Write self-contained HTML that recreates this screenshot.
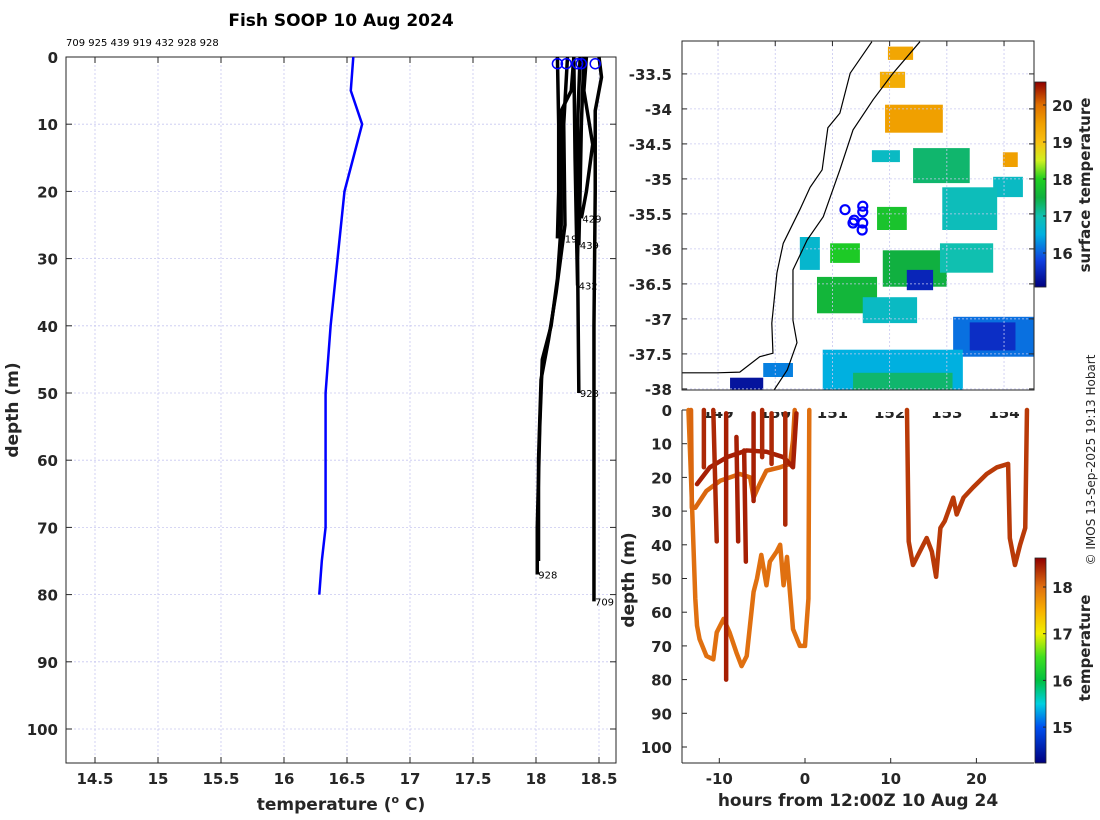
<!DOCTYPE html>
<html><head><meta charset="utf-8"><style>
html,body{margin:0;padding:0;background:#fff;}
svg{display:block;font-family:"DejaVu Sans","Liberation Sans",sans-serif;}
.tk{font-size:15px;font-weight:bold;fill:#262626;}
.lb{font-size:17px;font-weight:bold;fill:#262626;}
</style></head><body>
<svg id="fig" width="1100" height="820" viewBox="0 0 1100 820">
<text x="341" y="26" text-anchor="middle" font-size="17" font-weight="bold" fill="#000">Fish SOOP 10 Aug 2024</text>
<text x="66" y="46" font-size="10" fill="#000">709 925 439 919 432 928 928</text>
<g id="left"></g>
<g id="map"></g>
<g id="bot"></g>
<text transform="translate(1095,460) rotate(-90)" text-anchor="middle" font-size="12" fill="#262626">© IMOS 13-Sep-2025 19:13 Hobart</text>
</svg>
<script>
// ---------- data: left profile plot ----------
const xTicksL = [14.5,15,15.5,16,16.5,17,17.5,18,18.5];
const yTicksL = [0,10,20,30,40,50,60,70,80,90,100];
const climTemp = [16.55,16.53,16.62,16.48,16.37,16.33,16.33,16.30,16.28];
const climDepth = [0,5,10,20,40,50,70,75,80];
const profIds = ["709","928","432","439","429","919","928",""];
const profTemps = [
 [18.50,18.52,18.47,18.47,18.46,18.46],
 [18.35,18.33,18.34,18.33,18.34],
 [18.30,18.31,18.32,18.33],
 [18.38,18.36,18.35,18.34],
 [18.40,18.38,18.45,18.40,18.36],
 [18.17,18.18,18.18,18.17],
 [18.30,18.28,18.20,18.20,18.17,18.12,18.05,18.03,18.01,18.01],
 [18.25,18.22,18.23,18.16,18.10,18.04,18.02,18.02]
];
const profDepths = [
 [0,3,8,20,40,81],
 [0,10,20,30,50],
 [0,15,25,34],
 [0,10,20,28],
 [0,5,13,20,24],
 [0,10,20,27],
 [0,5,8,25,33,40,45,55,70,77],
 [0,10,25,35,42,48,60,75]
];
const startTemps = [18.17,18.24,18.33,18.36,18.47];
// ---------- data: map ----------
const latTicks = [-33.5,-34,-34.5,-35,-35.5,-36,-36.5,-37,-37.5,-38];
const lonTicks = [149,150,151,152,153,154];
const coastLon = [151.69,151.31,151.13,150.92,150.82,150.61,150.43,150.14,150.03,149.94,149.96,149.73,149.38,148.98,148.37];
const coastLat = [-33.04,-33.49,-34.06,-34.27,-34.87,-35.12,-35.44,-35.92,-36.34,-37.06,-37.49,-37.54,-37.76,-37.77,-37.77];
const isoLon = [152.53,152.06,151.71,151.36,151.13,150.84,150.56,150.31,150.31,150.38,150.21,149.96];
const isoLat = [-33.04,-33.49,-33.87,-34.30,-34.87,-35.54,-35.87,-36.30,-37.02,-37.34,-37.73,-38.04];
const stnLon = [151.22,151.53,151.53,151.38,151.36,151.53,151.52];
const stnLat = [-35.44,-35.39,-35.47,-35.59,-35.63,-35.63,-35.73];
const patchLon0 = [151.97,151.83,151.92,151.69,152.41,153.81,152.92,153.98,151.78,150.96,150.43,151.88,152.30,152.88,150.73,151.53,153.11,153.4,150.83,151.36,149.21,149.79];
const patchLon1 = [152.41,152.27,152.93,152.18,153.40,154.33,153.88,154.24,152.30,151.48,150.78,153.00,152.76,153.81,151.78,152.48,154.52,154.2,153.28,153.10,149.79,150.31];
const patchLat0 = [-33.11,-33.47,-33.94,-34.59,-34.56,-34.97,-35.12,-34.62,-35.40,-35.92,-35.83,-36.02,-36.30,-35.92,-36.40,-36.69,-36.97,-37.05,-37.44,-37.77,-37.84,-37.63];
const patchLat1 = [-33.30,-33.70,-34.34,-34.76,-35.06,-35.26,-35.73,-34.83,-35.73,-36.20,-36.30,-36.54,-36.59,-36.34,-36.92,-37.06,-37.54,-37.45,-38.04,-38.04,-38.04,-37.83];
const patchTemp = [19.4,19.3,19.5,16.8,17.3,16.8,16.9,19.5,17.8,17.9,16.7,17.5,15.5,17.0,17.6,16.8,16.1,15.6,16.5,17.3,15.3,16.2];
const sstTicks = [16,17,18,19,20];
// ---------- data: depth-time plot ----------
const hTicks = [-10,0,10,20];
const dTicks = [0,10,20,30,40,50,60,70,80,90,100];
const tTicks = [15,16,17,18];
const trHours = [
 [-13.6,-13.2,-12.8,-12.6,-12.3,-11.5,-10.7,-10.3,-9.5,-8.8,-8.0,-7.4,-6.8,-6.0,-5.6,-5.1,-4.5,-4.1,-3.3,-2.9,-2.5,-2.1,-1.4,-0.6,0,0.4,0.5],
 [-13.3,-13.2,-12.8,-11.5,-9.9,-7.6,-6.4,-6.0,-5.3,-4.5,-2.9,-1.75,-1.4,-1.2],
 [-12.6,-11.1,-9.1,-6.8,-4.5,-2.5,-1.4,-1.0],
 [-11.8,-11.8],[-10.7,-10.3],[-9.2,-9.2],[-8.0,-7.8],[-7.1,-6.9],[-6.0,-6.0],[-5.0,-5.0],[-3.9,-3.9],[-2.3,-2.3],
 [11.9,12.1,12.6,13.2,14.2,14.8,15.3,15.8,16.3,17.3,17.7,18.5,19.6,20.4,21.2,22.4,23.7,23.9,24.5,25.1,25.7,25.9]
];
const trDepths = [
 [0,27,56,64,68,73,74,66,62,66,72,76,73,54,50,43,52,45,42,40,52,43.6,65,70,70,56,0],
 [0,29,29,24,21,19,20,26,22,18,17,16,9,0],
 [22,17,14,12,12.4,14,17,1],
 [0,17],[0,39],[1,80],[8,39],[12,45],[1,27],[0,14],[1,16],[1,34],
 [0,39,46,43,38,42,49.5,35,33,26,31,26,23,21,19,17,16,38,46,40,35,0]
];
const trTemp = [18.0,18.05,18.45,18.4,18.4,18.45,18.45,18.45,18.45,18.4,18.4,18.4,18.3];
</script>
<script>
const NS="http://www.w3.org/2000/svg";
function mk(p,tag,at){const e=document.createElementNS(NS,tag);for(const k in at)e.setAttribute(k,at[k]);p.appendChild(e);return e;}
function lerpCol(stops,t){
  const v=stops;
  if(t<=v[0][0])return v[0][1];if(t>=v[v.length-1][0])return v[v.length-1][1];
  for(let i=1;i<v.length;i++){if(t<=v[i][0]){const a=v[i-1],b=v[i],f=(t-a[0])/(b[0]-a[0]);
    const c1=a[1],c2=b[1];const r=c1.map((c,j)=>Math.round(c+(c2[j]-c)*f));return r;}}
}
function rgb(a){return "rgb("+a.join(",")+")";}
const sstStops=[[15.08,[0,0,127]],[15.8,[16,64,224]],[16.5,[0,176,224]],[17,[16,192,176]],[17.5,[16,176,64]],[18,[32,208,32]],[18.5,[208,240,32]],[19,[248,192,16]],[19.5,[240,160,0]],[20,[224,112,0]],[20.62,[144,0,0]]];
const tStops=[[14.23,[0,0,127]],[15,[0,80,240]],[15.5,[0,208,224]],[16,[0,192,64]],[16.5,[64,224,32]],[17,[240,240,0]],[17.5,[248,176,0]],[18,[224,112,16]],[18.62,[144,0,0]]];

// ===== Left plot =====
(function(){
const g=document.getElementById('left');
const X0=66,X1=616,Y0=57,Y1=763;
const xs=t=>95+(t-14.5)*126, ys=d=>57+d*6.72;
xTicksL.forEach(t=>{const x=xs(t);
  const gl=mk(g,'line',{x1:x,x2:x,y1:Y0,y2:Y1,stroke:'#c8c8f0','stroke-width':0.8,'stroke-dasharray':'2,2'});
  
  mk(g,'line',{x1:x,x2:x,y1:Y0,y2:Y0+6,stroke:'#262626'});mk(g,'line',{x1:x,x2:x,y1:Y1,y2:Y1-6,stroke:'#262626'});
  const tx=mk(g,'text',{x:x,y:784,'text-anchor':'middle',class:'tk'});tx.textContent=String(t);
  });
yTicksL.forEach(d=>{const y=ys(d);
  const gl=mk(g,'line',{x1:X0,x2:X1,y1:y,y2:y,stroke:'#c8c8f0','stroke-width':0.8,'stroke-dasharray':'2,2'});
  
  mk(g,'line',{x1:X0,x2:X0+6,y1:y,y2:y,stroke:'#262626'});mk(g,'line',{x1:X1,x2:X1-6,y1:y,y2:y,stroke:'#262626'});
  const tx=mk(g,'text',{x:58,y:y+6,'text-anchor':'end',class:'tk'});tx.textContent=String(d);
  });
const bx=mk(g,'rect',{x:X0,y:Y0,width:X1-X0,height:Y1-Y0,fill:'none',stroke:'#262626','stroke-width':1});

const cl=mk(g,'polyline',{points:climTemp.map((t,i)=>xs(t)+','+ys(climDepth[i])).join(' '),fill:'none',stroke:'#0000ff','stroke-width':2.5});

profTemps.forEach((arr,i)=>{
  const pl=mk(g,'polyline',{points:arr.map((t,j)=>xs(t)+','+ys(profDepths[i][j])).join(' '),fill:'none',stroke:'#000','stroke-width':3.5,'stroke-linejoin':'round'});
  
  if(profIds[i]){const n=arr.length-1;const tx=mk(g,'text',{x:xs(arr[n])+1,y:ys(profDepths[i][n])+4,'font-size':10,fill:'#000'});tx.textContent=profIds[i];
  }
});
startTemps.forEach(t=>{const c=mk(g,'circle',{cx:xs(t),cy:ys(1),r:5,fill:'none',stroke:'#0000ff','stroke-width':1.5});
  });
const xl=mk(g,'text',{x:341,y:810,'text-anchor':'middle',class:'lb'});xl.innerHTML='temperature (<tspan font-size="11" dy="-7">o</tspan><tspan dy="7"> C)</tspan>';

const yl=mk(g,'text',{transform:'translate(18,410) rotate(-90)','text-anchor':'middle',class:'lb'});yl.textContent='depth (m)';

})();

// ===== Map =====
(function(){
const g=document.getElementById('map');
const X0=682,X1=1034,Y0=41,Y1=390;
const xs=l=>682+(l-148.37)*57.2, ys=la=>41+(-33.03-la)*70;
lonTicks.forEach(l=>{const x=xs(l);
  const tx=mk(g,'text',{x:x,y:418,'text-anchor':'middle',class:'tk'});tx.textContent=String(l);
  });
const cp=mk(g,'clipPath',{id:'mapclip'});mk(cp,'rect',{x:X0,y:Y0,width:X1-X0,height:Y1-Y0});
const inner=mk(g,'g',{'clip-path':'url(#mapclip)'});
patchTemp.forEach((t,i)=>{const x=xs(patchLon0[i]),y=ys(patchLat0[i]);
  const r=mk(inner,'rect',{x:x,y:y,width:xs(patchLon1[i])-x,height:ys(patchLat1[i])-y,fill:rgb(lerpCol(sstStops,t))});
  });
lonTicks.forEach(l=>{const x=xs(l);mk(inner,'line',{x1:x,x2:x,y1:Y0,y2:Y1,stroke:'#c8c8f0','stroke-width':0.8,'stroke-dasharray':'2,2'});
  mk(g,'line',{x1:x,x2:x,y1:Y0,y2:Y0+5,stroke:'#262626'});});
latTicks.forEach(la=>{const y=ys(la);mk(inner,'line',{x1:X0,x2:X1,y1:y,y2:y,stroke:'#c8c8f0','stroke-width':0.8,'stroke-dasharray':'2,2'});
  mk(g,'line',{x1:X0,x2:X0+5,y1:y,y2:y,stroke:'#262626'});mk(g,'line',{x1:X1,x2:X1-5,y1:y,y2:y,stroke:'#262626'});
  const tx=mk(g,'text',{x:672,y:y+6,'text-anchor':'end',class:'tk'});tx.textContent=String(la);
  });
const co=mk(inner,'polyline',{points:coastLon.map((l,i)=>xs(l)+','+ys(coastLat[i])).join(' '),fill:'none',stroke:'#000','stroke-width':1.2});

const iso=mk(inner,'polyline',{points:isoLon.map((l,i)=>xs(l)+','+ys(isoLat[i])).join(' '),fill:'none',stroke:'#000','stroke-width':1.2});

stnLon.forEach((l,i)=>{const c=mk(inner,'circle',{cx:xs(l),cy:ys(stnLat[i]),r:4.5,fill:'none',stroke:'#0000ff','stroke-width':2.2});
  });
const bx=mk(g,'rect',{x:X0,y:Y0,width:X1-X0,height:Y1-Y0,fill:'none',stroke:'#262626'});

const CY0=82,CY1=287,cys=t=>105+(20-t)*37;
for(let y=CY0;y<CY1;y++){const t=20-(y+0.5-105)/37;mk(g,'rect',{x:1035,y:y,width:11,height:1.2,fill:rgb(lerpCol(sstStops,t))});}
const cb=mk(g,'rect',{x:1035,y:CY0,width:11,height:CY1-CY0,fill:'none',stroke:'#262626','stroke-width':0.8});

sstTicks.forEach(t=>{const y=cys(t);mk(g,'line',{x1:1043,x2:1046,y1:y,y2:y,stroke:'#262626'});
  const tx=mk(g,'text',{x:1052,y:y+6,class:'tk'});tx.textContent=String(t);
  });
const cl=mk(g,'text',{transform:'translate(1090,185) rotate(-90)','text-anchor':'middle',class:'tk'});cl.textContent='surface temperature';

})();

// ===== Depth-time plot =====
(function(){
const g=document.getElementById('bot');
const X0=682,X1=1034,Y0=410,Y1=763;
mk(g,'rect',{x:676,y:407,width:X1-676+1,height:5,fill:'#fff'});
const xs=h=>805+h*8.57, ys=d=>410+d*3.37;
dTicks.forEach(d=>{const y=ys(d);mk(g,'line',{x1:X0,x2:X0+5,y1:y,y2:y,stroke:'#262626'});
  const tx=mk(g,'text',{x:672,y:y+6,'text-anchor':'end',class:'tk'});tx.textContent=String(d);
  });
hTicks.forEach(h=>{const x=xs(h);mk(g,'line',{x1:x,x2:x,y1:Y1,y2:Y1-5,stroke:'#262626'});
  const tx=mk(g,'text',{x:x,y:784,'text-anchor':'middle',class:'tk'});tx.textContent=String(h);
  });
mk(g,'line',{x1:X0,x2:X0,y1:Y0,y2:Y1,stroke:'#262626'});mk(g,'line',{x1:X0,x2:X1,y1:Y1,y2:Y1,stroke:'#262626'});
trHours.forEach((hs,i)=>{
  const pl=mk(g,'polyline',{points:hs.map((h,j)=>xs(h)+','+ys(trDepths[i][j])).join(' '),fill:'none',stroke:rgb(lerpCol(tStops,trTemp[i])),'stroke-width':4.5,'stroke-linejoin':'round','stroke-linecap':'round'});
  });
const CY0=558,CY1=763,cys=t=>587+(18-t)*46.7;
for(let y=CY0;y<CY1;y++){const t=18-(y+0.5-587)/46.7;mk(g,'rect',{x:1035,y:y,width:11,height:1.2,fill:rgb(lerpCol(tStops,t))});}
const cb=mk(g,'rect',{x:1035,y:CY0,width:11,height:CY1-CY0,fill:'none',stroke:'#262626','stroke-width':0.8});

tTicks.forEach(t=>{const y=cys(t);mk(g,'line',{x1:1043,x2:1046,y1:y,y2:y,stroke:'#262626'});
  const tx=mk(g,'text',{x:1052,y:y+6,class:'tk'});tx.textContent=String(t);
  });
const cl=mk(g,'text',{transform:'translate(1090,648) rotate(-90)','text-anchor':'middle',class:'tk'});cl.textContent='temperature';

const xl=mk(g,'text',{x:858,y:806,'text-anchor':'middle',class:'lb'});xl.textContent='hours from 12:00Z 10 Aug 24';

const yl=mk(g,'text',{transform:'translate(634,580) rotate(-90)','text-anchor':'middle',class:'lb'});yl.textContent='depth (m)';

})();
</script>
</body></html>
